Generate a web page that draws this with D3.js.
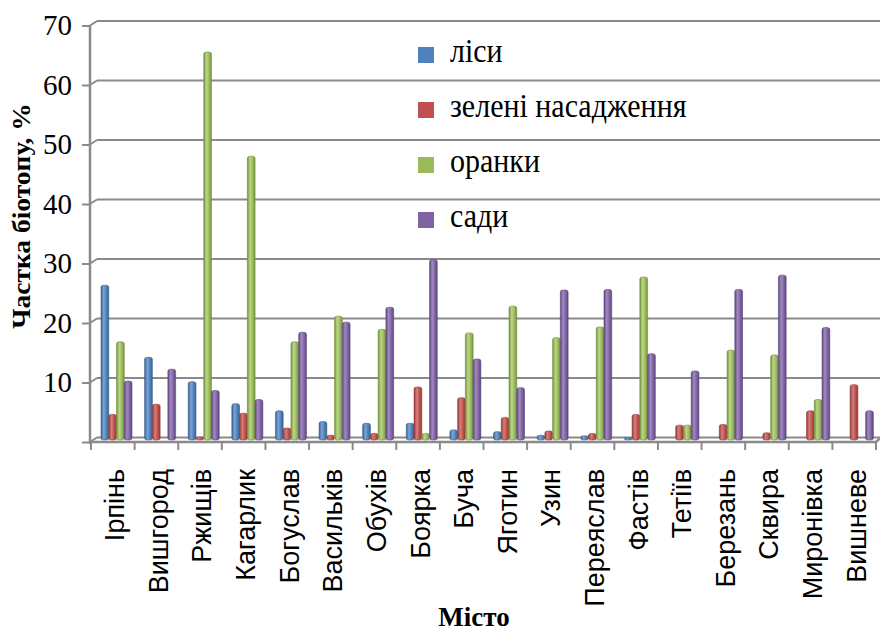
<!DOCTYPE html>
<html>
<head>
<meta charset="utf-8">
<script src="https://cdn.jsdelivr.net/npm/d3@7"></script>
<style>
  html, body { margin: 0; padding: 0; background: #fff; }
  svg { display: block; }
</style>
</head>
<body>
<svg id="chart" width="880" height="633"></svg>
<script>
// Частка біотопів у містах
const cities = ["Ірпінь", "Вишгород", "Ржищів", "Кагарлик", "Богуслав", "Васильків", "Обухів", "Боярка", "Буча",
  "Яготин", "Узин", "Переяслав", "Фастів", "Тетіїв", "Березань", "Сквира", "Миронівка", "Вишневе"];
const seriesNames = ["ліси", "зелені насадження", "оранки", "сади"];
const lisy   = [26.0, 13.9, 9.8, 6.1, 4.9, 3.1, 2.8, 2.8, 1.7, 1.4, 0.8, 0.7, 0.4, 0, 0, 0, 0, 0];
const zeleni = [4.3, 6.0, 0.5, 4.5, 2.0, 0.8, 1.1, 8.9, 7.1, 3.8, 1.5, 1.1, 4.3, 2.5, 2.6, 1.2, 4.9, 9.3];
const oranky = [16.5, 0, 65.2, 47.7, 16.5, 20.8, 18.6, 1.1, 18.0, 22.5, 17.2, 19.0, 27.4, 2.5, 15.1, 14.3, 6.8, 0];
const sady   = [9.9, 11.9, 8.3, 6.8, 18.1, 19.8, 22.3, 30.3, 13.6, 8.8, 25.2, 25.3, 14.5, 11.6, 25.3, 27.7, 18.9, 4.9];
const yTicks = [0, 10, 20, 30, 40, 50, 60, 70];
const yTitle = "Частка біотопу, %";
const xTitle = "Місто";

const seriesValues = [lisy, zeleni, oranky, sady];
const colors = ["#4f81bd", "#c0504d", "#9bbb59", "#8064a2"];
const darks  = ["#36618f", "#923936", "#74903e", "#5d4880"];
const lights = ["#7ea3d3", "#d67e7b", "#bcd68a", "#a28ac0"];
const serif = "'Liberation Serif', 'Times New Roman', serif";

const svg = d3.select("#chart");
const defs = svg.append("defs");
colors.forEach((c, i) => {
  const g = defs.append("linearGradient").attr("id", "grad" + i)
    .attr("x1", "0%").attr("x2", "100%").attr("y1", "0%").attr("y2", "0%");
  g.append("stop").attr("offset", "0%").attr("stop-color", darks[i]);
  g.append("stop").attr("offset", "35%").attr("stop-color", lights[i]);
  g.append("stop").attr("offset", "70%").attr("stop-color", c);
  g.append("stop").attr("offset", "100%").attr("stop-color", darks[i]);
});

// Front plane of the plot; the back wall sits a little up and to the right.
const plotLeft = 91, plotRight = 876, plotBottom = 442, plotTop = 25.5;
const depthX = 6, depthY = 4.5;
const gridColor = "#8a8a8a";

const y = d3.scaleLinear().domain([0, 70]).range([plotBottom, plotTop]);
const x0 = d3.scaleBand().domain(cities).range([plotLeft, plotRight]).paddingInner(0).paddingOuter(0);
const x1 = d3.scaleBand().domain(seriesNames).range([10, 41]).padding(0);

// back-wall gridlines and connectors to the value axis
const grid = svg.append("g");
yTicks.forEach(t => {
  grid.append("line")
    .attr("x1", plotLeft + depthX).attr("x2", 880)
    .attr("y1", y(t) - depthY).attr("y2", y(t) - depthY)
    .attr("stroke", gridColor).attr("stroke-width", 2);
  grid.append("line")
    .attr("x1", plotLeft - 1).attr("x2", plotLeft + depthX)
    .attr("y1", y(t)).attr("y2", y(t) - depthY)
    .attr("stroke", gridColor).attr("stroke-width", 2);
});

// value axis
const yAxis = d3.axisLeft(y).tickValues(yTicks).tickSize(8).tickPadding(10)
  .tickFormat(d => d === 0 ? "" : d);
const yg = svg.append("g").attr("transform", `translate(${plotLeft - 1},0)`).call(yAxis);
yg.select(".domain").attr("stroke", gridColor).attr("stroke-width", 2.5)
  .attr("d", `M0,${plotTop}V${plotBottom + 2}`);
yg.selectAll(".tick line").attr("stroke", gridColor).attr("stroke-width", 2);
yg.selectAll(".tick text")
  .attr("font-family", serif)
  .attr("font-size", 29).attr("fill", "#000");

// bars
const barBase = plotBottom - 2;
const groups = svg.append("g").selectAll("g").data(cities).join("g")
  .attr("transform", d => `translate(${x0(d)},0)`);
groups.selectAll("rect")
  .data((c, ci) => seriesNames.map((s, si) => ({ s, si, v: seriesValues[si][ci] })).filter(d => d.v > 0))
  .join("rect")
  .attr("x", d => x1(d.s))
  .attr("width", x1.bandwidth())
  .attr("y", d => y(d.v) - 2)
  .attr("height", d => barBase - (y(d.v) - 2))
  .attr("rx", 2.5).attr("ry", 2)
  .attr("fill", d => `url(#grad${d.si})`)
  .attr("stroke", d => darks[d.si]).attr("stroke-width", 0.6);

// category axis and floor
const floor = svg.append("g");
floor.append("path")
  .attr("d", `M${plotLeft - 1},${plotBottom}H${plotRight}L${plotRight + depthX - 1},${plotBottom - depthY}`)
  .attr("fill", "none").attr("stroke", gridColor).attr("stroke-width", 2.5);
const xAxis = d3.axisBottom(x0).tickSize(0).tickPadding(0);
const xg = svg.append("g").attr("transform", `translate(0,${plotBottom})`).call(xAxis);
xg.select(".domain").remove();
xg.selectAll(".tick line").remove();
xg.selectAll(".tick text")
  .attr("font-family", "'Liberation Sans', Arial, sans-serif")
  .attr("font-size", 27).attr("fill", "#000")
  .attr("text-anchor", "end")
  .attr("transform", `translate(2,27) rotate(-90)`)
  .attr("x", 0).attr("y", 0).attr("dy", "0.35em");
floor.selectAll("line.sep").data(d3.range(cities.length + 1)).join("line")
  .attr("class", "sep")
  .attr("x1", i => plotLeft + i * x0.step()).attr("x2", i => plotLeft + i * x0.step())
  .attr("y1", plotBottom).attr("y2", plotBottom + 8)
  .attr("stroke", gridColor).attr("stroke-width", 2);

// legend
const legend = svg.append("g").attr("transform", "translate(418,47)");
const li = legend.selectAll("g").data(seriesNames).join("g")
  .attr("transform", (d, i) => `translate(0,${i * 55})`);
li.append("rect").attr("width", 16).attr("height", 16).attr("fill", (d, i) => colors[i]);
li.append("text")
  .attr("transform", "translate(32,14.5) scale(1,1.12)")
  .attr("font-family", serif)
  .attr("font-size", 30).attr("fill", "#000")
  .text(d => d);

// axis titles
svg.append("text")
  .attr("transform", "translate(30,216) rotate(-90) scale(1.1,1)")
  .attr("text-anchor", "middle")
  .attr("font-family", serif)
  .attr("font-weight", "bold").attr("font-size", 25).attr("fill", "#000")
  .text(yTitle);
svg.append("text")
  .attr("x", 474).attr("y", 626)
  .attr("text-anchor", "middle")
  .attr("font-family", serif)
  .attr("font-weight", "bold").attr("font-size", 27).attr("fill", "#000")
  .text(xTitle);
</script>
</body>
</html>
